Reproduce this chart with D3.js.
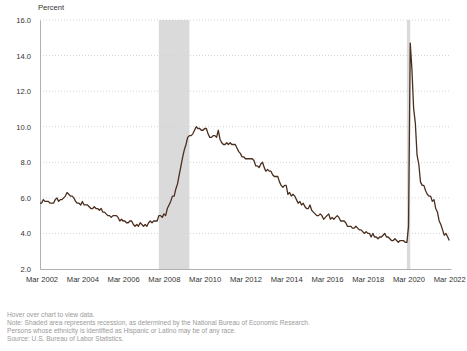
<!DOCTYPE html>
<html><head><meta charset="utf-8">
<script src="https://cdn.jsdelivr.net/npm/d3@7"></script>
<style>
html,body{margin:0;padding:0;background:#fff;}
svg{display:block;font-family:"Liberation Sans",Arial,sans-serif;}
</style></head>
<body><svg id="c" width="467" height="351"></svg>
<script>
const startMonth = "2002-02";
const rates = [
 5.7,5.7,5.9,5.8,5.8,5.8,5.7,5.7,5.7,5.9,6.0,
 5.8,5.9,5.9,6.0,6.1,6.3,6.2,6.1,6.1,6.0,5.8,5.7,
 5.7,5.6,5.8,5.6,5.6,5.6,5.5,5.4,5.4,5.5,5.4,5.4,
 5.3,5.4,5.2,5.2,5.1,5.0,5.0,4.9,5.0,5.0,5.0,4.9,
 4.7,4.8,4.7,4.7,4.6,4.6,4.7,4.7,4.5,4.4,4.5,4.4,
 4.6,4.5,4.4,4.5,4.4,4.6,4.7,4.6,4.7,4.7,4.7,5.0,
 5.0,4.9,5.1,5.0,5.4,5.6,5.8,6.1,6.1,6.5,6.8,7.3,
 7.8,8.3,8.7,9.0,9.4,9.5,9.5,9.6,9.8,10.0,9.9,9.9,
 9.8,9.8,9.9,9.9,9.6,9.4,9.4,9.5,9.5,9.4,9.8,9.3,
 9.1,9.0,9.0,9.1,9.0,9.1,9.0,9.0,9.0,8.8,8.6,8.5,
 8.3,8.3,8.2,8.2,8.2,8.2,8.2,8.1,7.8,7.8,7.7,7.9,
 8.0,7.7,7.5,7.6,7.5,7.5,7.3,7.2,7.2,7.2,6.9,6.7,
 6.6,6.7,6.7,6.2,6.3,6.1,6.2,6.1,5.9,5.7,5.8,5.6,
 5.7,5.5,5.4,5.4,5.6,5.3,5.2,5.1,5.0,5.0,5.1,5.0,
 4.8,4.9,5.0,5.1,4.8,4.9,4.8,4.9,5.0,4.9,4.7,4.7,
 4.7,4.6,4.4,4.4,4.4,4.3,4.3,4.4,4.3,4.2,4.2,4.1,
 4.0,4.1,4.0,4.0,3.8,4.0,3.8,3.8,3.7,3.8,3.8,3.9,
 4.0,3.8,3.8,3.7,3.6,3.6,3.7,3.6,3.5,3.6,3.6,3.6,
 3.5,3.5,4.4,14.7,13.2,11.0,10.2,8.4,7.9,6.9,6.7,6.7,
 6.4,6.2,6.1,6.1,5.8,5.9,5.4,5.2,4.7,4.5,4.2,3.9,
 4.0,3.8,3.6
];
const recessions = [["2007-12","2009-06"],["2020-02","2020-04"]];
const yTicks = [2,4,6,8,10,12,14,16];
const xTickYears = [2002,2004,2006,2008,2010,2012,2014,2016,2018,2020,2022];
const notes = [
 "Hover over chart to view data.",
 "Note: Shaded area represents recession, as determined by the National Bureau of Economic Research.",
 "Persons whose ethnicity is identified as Hispanic or Latino may be of any race.",
 "Source: U.S. Bureau of Labor Statistics."
];

const parse = d3.timeParse("%Y-%m");
const t0 = parse(startMonth);
const data = rates.map((v,i)=>({date:d3.timeMonth.offset(t0,i), v}));

const svg = d3.select("#c");
const L=40, R=451, T=20, B=269;
const x = d3.scaleTime().domain([parse("2002-02"), parse("2022-04")]).range([L,R]);
const y = d3.scaleLinear().domain([2,16]).range([B,T]);

svg.append("g").selectAll("rect").data(recessions).join("rect")
  .attr("x", d=>x(parse(d[0])))
  .attr("width", d=>x(parse(d[1]))-x(parse(d[0])))
  .attr("y", T).attr("height", B-T)
  .attr("fill", "#dadada");

svg.append("g").selectAll("line").data(yTicks.filter(d=>d>2)).join("line")
  .attr("x1", L).attr("x2", R)
  .attr("y1", d=>y(d)).attr("y2", d=>y(d))
  .attr("stroke", "#d4d4d4").attr("stroke-width", 1)
  .attr("stroke-dasharray", "1,2");

const yAxis = svg.append("g").attr("transform", `translate(${L},0)`)
  .call(d3.axisLeft(y).tickValues(yTicks).tickFormat(d3.format(".1f")).tickSize(0).tickPadding(9));
yAxis.select(".domain").attr("stroke", "#b0b0b0");
yAxis.selectAll("text").attr("font-size", "7.6px").attr("fill", "#333")
  .attr("font-family", '"Liberation Sans",Arial,sans-serif');

const xAxis = svg.append("g").attr("transform", `translate(0,${B})`)
  .call(d3.axisBottom(x).tickValues(xTickYears.map(yy=>new Date(yy,2,1)))
    .tickFormat(d3.timeFormat("Mar %Y")).tickSize(0).tickPadding(8));
xAxis.select(".domain").attr("stroke", "#b0b0b0");
xAxis.selectAll("text").attr("font-size", "7.6px").attr("fill", "#333")
  .attr("font-family", '"Liberation Sans",Arial,sans-serif');

svg.append("path").datum(data)
  .attr("fill", "none").attr("stroke", "#4a2e1e").attr("stroke-width", 1.3)
  .attr("stroke-linejoin", "round")
  .attr("d", d3.line().x(d=>x(d.date)).y(d=>y(d.v)));

svg.append("text").attr("x", 38).attr("y", 9.5).attr("font-size", "7.6px").attr("fill", "#333").text("Percent");

svg.append("g").selectAll("text").data(notes).join("text")
  .attr("x", 7).attr("y", (d,i)=>317 + i*8)
  .attr("font-size", "6.6px").attr("fill", "#9a9a9a").text(d=>d);
</script>
</body></html>
